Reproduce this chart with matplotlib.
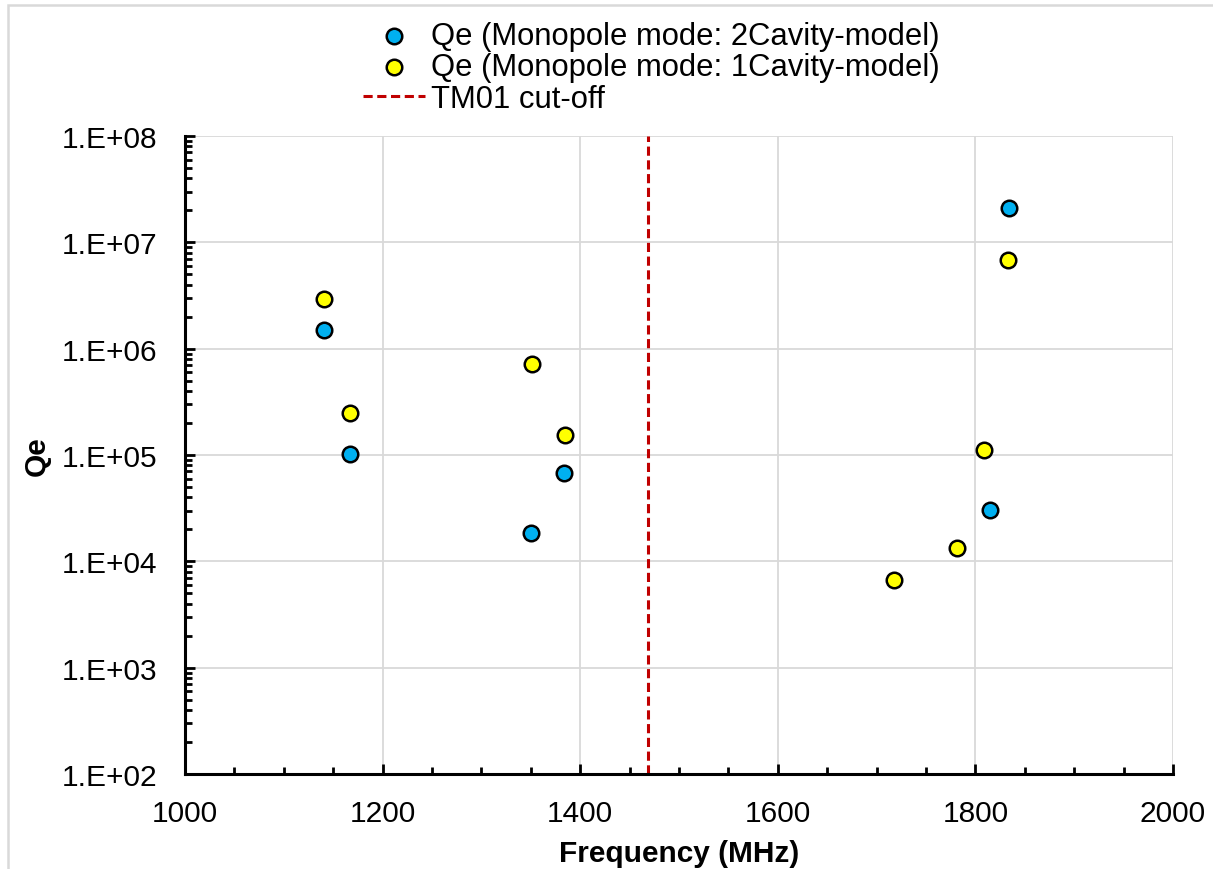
import matplotlib
matplotlib.use("Agg")
import matplotlib.pyplot as plt
from matplotlib.patches import Rectangle
from matplotlib.ticker import LogLocator, FixedLocator, NullFormatter, MultipleLocator

plt.rcParams['font.family'] = ['Liberation Sans', 'DejaVu Sans']

# Data
freq_2cav = [1140.7, 1167, 1350.2, 1383.6, 1814.8, 1834]
qe_2cav = [1.5e6, 1.02e5, 1.85e4, 6.8e4, 3.04e4, 2.1e7]
freq_1cav = [1140.7, 1167, 1351, 1384.6, 1717.6, 1781.4, 1808.7, 1833]
qe_1cav = [2.93e6, 2.48e5, 7.2e5, 1.54e5, 6.67e3, 1.33e4, 1.11e5, 6.8e6]
cutoff_freq = 1468.5
ytick_vals = [1e2, 1e3, 1e4, 1e5, 1e6, 1e7, 1e8]
ytick_labels = ["1.E+02", "1.E+03", "1.E+04", "1.E+05", "1.E+06", "1.E+07", "1.E+08"]
xtick_vals = [1000, 1200, 1400, 1600, 1800, 2000]

W, H = 1213, 870
fig = plt.figure(figsize=(W / 100, H / 100), dpi=100)
# light frame (only top and left edges visible in reference)
fig.patches.append(Rectangle((8 / W, -0.05), 1.2, 1 - 6 / H + 0.05, transform=fig.transFigure,
                             fill=False, edgecolor='#d9d9d9', linewidth=1.8))
ax = fig.add_axes([185 / W, 1 - 775 / H, (1173 - 185) / W, (775 - 137) / H])

ax.set_yscale('log')
ax.set_xlim(1000, 2000)
ax.set_ylim(1e2, 1e8)

ax.scatter(freq_2cav, qe_2cav, s=125, color='#00B0F0', edgecolors='black', linewidths=1.8, zorder=3,
           label='Qe (Monopole mode: 2Cavity-model)')
ax.scatter(freq_1cav, qe_1cav, s=125, color='#FFFF00', edgecolors='black', linewidths=1.8, zorder=3,
           label='Qe (Monopole mode: 1Cavity-model)')
ax.axvline(cutoff_freq, color='#C00000', linestyle=(0, (3, 1.5)), linewidth=2.2, zorder=2,
           label='TM01 cut-off')

ax.yaxis.set_major_locator(FixedLocator(ytick_vals))
ax.set_yticklabels(ytick_labels)
ax.yaxis.set_minor_locator(LogLocator(base=10, subs=range(2, 10), numticks=20))
ax.yaxis.set_minor_formatter(NullFormatter())
ax.set_xticks(xtick_vals)
ax.xaxis.set_minor_locator(MultipleLocator(50))

ax.grid(True, which='major', color='#d9d9d9', linewidth=1.3, zorder=0)
ax.set_axisbelow(True)
for s in ['top', 'right']:
    ax.spines[s].set_visible(False)
for s in ['left', 'bottom']:
    ax.spines[s].set_linewidth(2.2)
    ax.spines[s].set_color('black')

ax.tick_params(axis='y', which='major', direction='in', length=7, width=2, labelsize=21.5, pad=20)
ax.tick_params(axis='x', which='major', direction='in', length=7, width=2, labelsize=21.5, pad=18)
ax.tick_params(axis='both', which='minor', direction='in', length=5, width=2)

ax.set_xlabel('Frequency (MHz)', fontsize=21.5, fontweight='bold', labelpad=9)
ax.set_ylabel('Qe', fontsize=21.5, fontweight='bold', labelpad=8)

leg = ax.legend(loc='upper center', bbox_to_anchor=(0.537, 0.975), bbox_transform=fig.transFigure,
                frameon=False, fontsize=22.3, handlelength=2.0, handletextpad=0.2, labelspacing=0.05,
                borderaxespad=0, borderpad=0)

fig.savefig('out.png', dpi=100)
